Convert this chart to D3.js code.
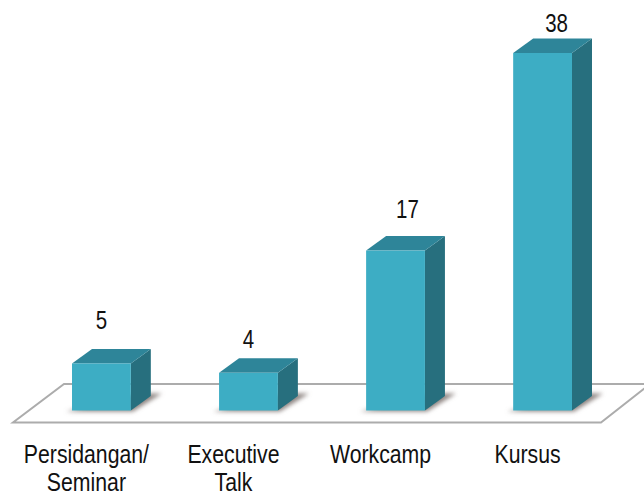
<!DOCTYPE html>
<html>
<head>
<meta charset="utf-8">
<script src="https://cdnjs.cloudflare.com/ajax/libs/d3/7.8.5/d3.min.js"></script>
<style>
  html, body { margin: 0; padding: 0; background: #fff; }
  svg { display: block; }
  text { font-family: "Liberation Sans", Arial, sans-serif; font-size: 25px; fill: #111; text-anchor: middle; }
</style>
</head>
<body>
<svg id="chart" width="644" height="493"></svg>
<script>
let categories = [["Persidangan/", "Seminar"], ["Executive", "Talk"], ["Workcamp"], ["Kursus"]]
let values = [5, 4, 17, 38]

// value labels don't sit evenly above the bars in the original
let value_dx = [0, 0, 12, 14]
let value_dy = [-34, -25, -33, -21]

let depth = {x: 20, y: -14.5}
let squeeze = 0.85

let svg = d3.select("#chart")

// make scales for the bars
function make_scales() {
  return {
    x: d3.scaleBand()
      .domain(d3.range(values.length))
      .range([72, 572])
      .paddingInner(0.6)
      .paddingOuter(0),
    y: d3.scaleLinear()
      .domain([0, 38])
      .range([410.5, 53])
  }
}

function poly(points) {
  return points.map(p => p.join(",")).join(" ")
}

// the flat plate under the bars
function draw_floor(scales) {
  let base = scales.y(0)
  svg.append("polygon")
    .attr("points", poly([[13, base + 12], [601, base + 12], [650, base - 26.5], [64, base - 26.5]]))
    .attr("fill", "#fff")
    .attr("stroke", "#acacac")
    .attr("stroke-width", 2)
}

// soft shadow at the foot of each bar
function draw_shadows(scales) {
  let blur = svg.append("defs").append("filter")
    .attr("id", "soft")
    .attr("x", "-30%").attr("y", "-60%")
    .attr("width", "160%").attr("height", "220%")
  blur.append("feGaussianBlur").attr("stdDeviation", 2.2)

  let base = scales.y(0)
  svg.append("g").selectAll("polygon")
    .data(values).enter()
    .append("polygon")
    .attr("filter", "url(#soft)")
    .attr("fill", "#8f8683")
    .attr("points", (d, i) => {
      let left = scales.x(i), right = left + scales.x.bandwidth()
      return poly([[left - 6, base + 1], [right + 2, base + 1], [right + 31, base - 17], [right + 6, base - 17]])
    })
}

function draw_bars(scales) {
  let w = scales.x.bandwidth(), base = scales.y(0)
  let bars = svg.append("g").selectAll("g")
    .data(values).enter()
    .append("g")

  // side face
  bars.append("polygon")
    .attr("fill", "#276f7e")
    .attr("points", (d, i) => {
      let r = scales.x(i) + w, t = scales.y(d)
      return poly([[r, t], [r + depth.x, t + depth.y], [r + depth.x, base + depth.y], [r, base]])
    })

  // top face
  bars.append("polygon")
    .attr("fill", "#2e8599")
    .attr("points", (d, i) => {
      let l = scales.x(i), t = scales.y(d)
      return poly([[l, t], [l + depth.x, t + depth.y], [l + w + depth.x, t + depth.y], [l + w, t]])
    })

  // front face
  bars.append("rect")
    .attr("x", (d, i) => scales.x(i))
    .attr("y", d => scales.y(d))
    .attr("width", w)
    .attr("height", d => base - scales.y(d))
    .attr("fill", "#3dadc4")
}

function draw_labels(scales) {
  let w = scales.x.bandwidth()

  svg.append("g").selectAll("text")
    .data(values).enter()
    .append("text")
    .attr("transform", (d, i) => {
      let px = scales.x(i) + w / 2 + value_dx[i]
      let py = scales.y(d) + value_dy[i]
      return `translate(${px}, ${py}) scale(${squeeze - 0.03}, 1)`
    })
    .text(d => d)

  let cats = svg.append("g").selectAll("g")
    .data(categories).enter()
    .append("g")
    .attr("transform", (d, i) => `translate(${scales.x(i) + w / 2 - 15}, 0)`)

  cats.selectAll("text")
    .data(d => d).enter()
    .append("text")
    .attr("transform", (d, i) => `translate(0, ${463 + i * 28}) scale(${squeeze}, 1)`)
    .text(d => d)
}

function visualize() {
  let scales = make_scales()
  draw_floor(scales)
  draw_shadows(scales)
  draw_bars(scales)
  draw_labels(scales)
}

visualize()
</script>
</body>
</html>
